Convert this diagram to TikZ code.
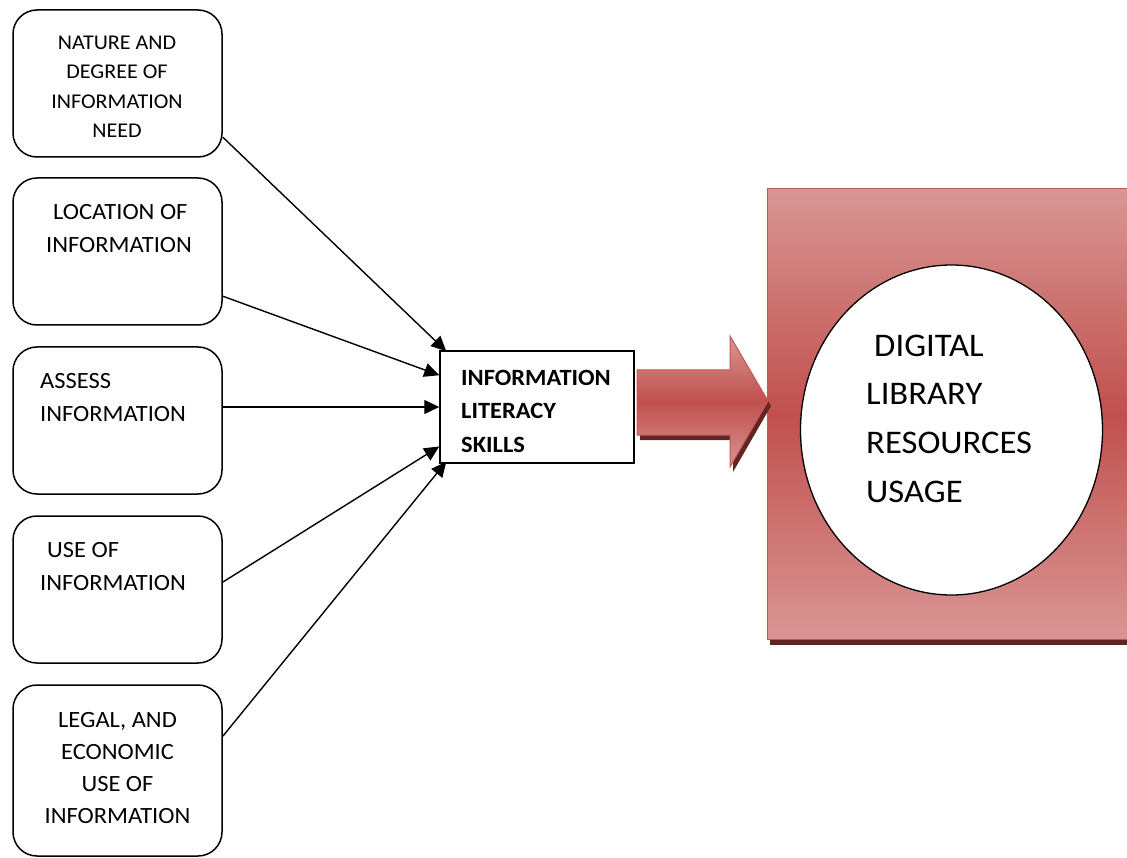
\documentclass[tikz,border=0pt]{standalone}
\usepackage{fontspec}
\setmainfont{Carlito}[FakeStretch=1.05]
\usetikzlibrary{arrows.meta,shapes.geometric}
\definecolor{rlight}{RGB}{217,150,148}
\definecolor{rdark}{RGB}{192,80,77}
\definecolor{rshadow}{RGB}{99,37,35}
\definecolor{redge}{RGB}{196,86,83}

\begin{document}
\begin{tikzpicture}[x=1pt,y=-1pt,
  ibox/.style={draw=black,line width=1.5pt,rounded corners=24pt,
    minimum width=209pt,minimum height=147pt,inner sep=0pt},
  lbl/.style={anchor=base west,inner sep=0pt,font=\fontsize{23.3}{28}\selectfont},
  lblc/.style={anchor=base,inner sep=0pt,font=\fontsize{23.3}{28}\selectfont},
  lbls/.style={anchor=base,inner sep=0pt,font=\fontsize{21}{25}\selectfont},
  bold/.style={anchor=base west,inner sep=0pt,font=\fontsize{23.3}{28}\selectfont\bfseries},
  big/.style={anchor=base west,inner sep=0pt,font=\fontsize{33}{38}\selectfont},
  feed/.style={draw=black,line width=1.4pt,-{Triangle[length=15pt,width=14pt]}},
  redshade/.style={top color=rlight,bottom color=rlight,middle color=rdark,draw=redge,line width=1pt}
 ]
\clip[use as bounding box] (0,0) rectangle (1127,858);

% input boxes
\node[ibox] (b1) at (117.5,83.5) {};
\node[ibox] (b2) at (117.5,251.5) {};
\node[ibox] (b3) at (117.5,420.5) {};
\node[ibox] (b4) at (117.5,589.5) {};
\node[ibox,minimum height=171pt] (b5) at (117.5,770.5) {};

\node[lbls] (t1a) at (117,49.5) {NATURE AND};
\node[lbls] (t1b) at (117,79) {DEGREE OF};
\node[lbls] (t1c) at (117,108.3) {INFORMATION};
\node[lbls] (t1d) at (117,137.6) {NEED};

\node[lbl] (t2a) at (53,219.5) {LOCATION OF};
\node[lbl] (t2b) at (46,252.5) {INFORMATION};

\node[lbl] (t3a) at (40,388.5) {ASSESS};
\node[lbl] (t3b) at (40,421.5) {INFORMATION};

\node[lbl] (t4a) at (47,557.5) {USE OF};
\node[lbl] (t4b) at (40,590.5) {INFORMATION};

\node[lblc] (t5a) at (117.5,727.5) {LEGAL, AND};
\node[lblc] (t5b) at (117.5,759.5) {ECONOMIC};
\node[lblc] (t5c) at (117.5,791.3) {USE OF};
\node[lblc] (t5d) at (117.5,823) {INFORMATION};

% central box
\node[draw=black,line width=1.5pt,minimum width=194pt,minimum height=112pt,inner sep=0pt] (m) at (537,407) {};
\node[bold] (ma) at (461,385) {INFORMATION};
\node[bold] (mb) at (461,418.5) {LITERACY};
\node[bold] (mc) at (461,452) {SKILLS};

% connectors
\draw[feed] (b1.-27) -- ([xshift=7pt,yshift=-1pt]m.north west);
\draw[feed] (b2.-23) -- (m.162);
\draw[feed] (m.west -| b3.east) -- (m.west);
\draw[feed] (b4.4) -- (m.202);
\draw[feed] (b5.18) -- ([xshift=7pt,yshift=2pt]m.south west);

% outcome panel
\fill[rshadow] (770,194) rectangle (1140,645);
\shade[redshade] (767,189) rectangle (1140,639);
\node[ellipse,draw=black,line width=1.3pt,fill=white,minimum width=302pt,minimum height=330pt,inner sep=0pt] (c) at (951.5,430) {};
\node[big] (ca) at (874,357) {DIGITAL};
\node[big] (cb) at (866,405) {LIBRARY};
\node[big] (cc) at (866,453) {RESOURCES};
\node[big] (cd) at (866,502) {USAGE};

% block arrow
\fill[rshadow] (640,375) -- (733,375) -- (733,341) -- (771,406) -- (733,472) -- (733,440) -- (640,440) -- cycle;
\shade[redshade] (637,370) -- (730,370) -- (730,336) -- (768,401) -- (730,467) -- (730,435) -- (637,435) -- cycle;
\end{tikzpicture}
\end{document}
